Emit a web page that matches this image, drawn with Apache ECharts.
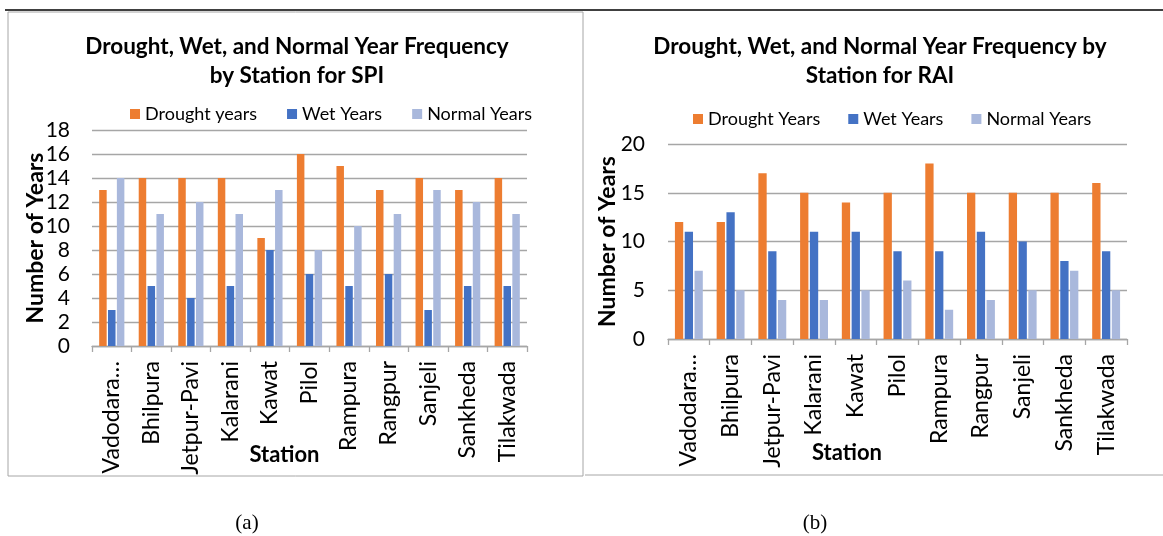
<!DOCTYPE html>
<html><head><meta charset="utf-8">
<script src="https://cdn.jsdelivr.net/npm/echarts@6/dist/echarts.min.js"></script>
<style>html,body{margin:0;padding:0;background:#fff}#c{width:1163px;height:536px}</style>
</head><body><div id="c"></div>
<script>
const stations = ['Vadodara…','Bhilpura','Jetpur-Pavi','Kalarani','Kawat','Pilol','Rampura','Rangpur','Sanjeli','Sankheda','Tilakwada'];
const spiDrought = [13,14,14,14,9,16,15,13,14,13,14];
const spiWet = [3,5,4,5,8,6,5,6,3,5,5];
const spiNormal = [14,11,12,11,13,8,10,11,13,12,11];
const raiDrought = [12,12,17,15,14,15,18,15,15,15,16];
const raiWet = [11,13,9,11,11,9,9,11,10,8,9];
const raiNormal = [7,5,4,4,5,6,3,4,5,7,5];
const spiTicks = {min:0,max:18,interval:2};
const raiTicks = {min:0,max:20,interval:5};

const FONT = 'Lato';
const cOrange = '#ED7D31', cBlue = '#4472C4', cLight = '#A9B8DC';
const chart = echarts.init(document.getElementById('c'));

function xAxis(gi, padRight, gap){
  return {
    type:'category', gridIndex:gi, data:stations,
    axisLine:{lineStyle:{color:'#a6a6a6',width:1.3}},
    axisTick:{show:true,length:6,lineStyle:{color:'#a6a6a6',width:1.3}},
    axisLabel:{rotate:90,color:'#000',fontFamily:FONT,fontSize:23,margin:15,interval:0},
    name:'Station', nameLocation:'middle', nameGap:gap, nameMoveOverlap:false,
    nameTextStyle:{color:'#000',fontFamily:FONT,fontSize:22,fontWeight:'bold',padding:[0,padRight,0,0]}
  };
}
function yAxis(gi, t, gap, margin){
  return {
    type:'value', gridIndex:gi, min:t.min, max:t.max, interval:t.interval,
    axisLine:{show:false}, axisTick:{show:false},
    axisLabel:{color:'#000',fontFamily:FONT,fontSize:21,margin:margin},
    splitLine:{lineStyle:{color:'#a6a6a6',width:1.4}},
    name:'Number of Years', nameLocation:'middle', nameRotate:90, nameGap:gap, nameMoveOverlap:false,
    nameTextStyle:{color:'#000',fontFamily:FONT,fontSize:23,fontWeight:'bold'}
  };
}
function bar(name, data, color, gi, bw){
  return {type:'bar', name, data, xAxisIndex:gi, yAxisIndex:gi, barWidth:bw, barGap:'18%',
    itemStyle:{color}, emphasis:{disabled:true}, animation:false};
}
const legendText = {color:'#000',fontFamily:FONT,fontSize:18};
const titleStyle = {fontFamily:FONT,fontSize:22.5,fontWeight:'bold',color:'#000',lineHeight:29};

chart.setOption({
  animation:false,
  title:[
    {text:'Drought, Wet, and Normal Year Frequency\nby Station for SPI', left:292, top:27, textAlign:'center', textStyle:titleStyle},
    {text:'Drought, Wet, and Normal Year Frequency by\nStation for RAI', left:875, top:27, textAlign:'center', textStyle:titleStyle}
  ],
  legend:[
    {data:['Drought years','Wet Years','Normal Years'], left:125, top:100, icon:'rect', itemWidth:10, itemHeight:10, itemGap:30, textStyle:legendText},
    {data:['Drought Years','Wet Years','Normal Years'], left:688, top:105, icon:'rect', itemWidth:10, itemHeight:10, itemGap:28, textStyle:legendText}
  ],
  grid:[
    {left:92, top:130, width:435, height:216},
    {left:668, top:144, width:459, height:195}
  ],
  xAxis:[xAxis(0,50,98), xAxis(1,101,103)],
  yAxis:[yAxis(0,spiTicks,45,22), yAxis(1,raiTicks,49,23)],
  series:[
    bar('Drought years', spiDrought, cOrange, 0, 7.5),
    bar('Wet Years', spiWet, cBlue, 0, 7.5),
    bar('Normal Years', spiNormal, cLight, 0, 7.5),
    bar('Drought Years', raiDrought, cOrange, 1, 8.3),
    bar('Wet Years', raiWet, cBlue, 1, 8.3),
    bar('Normal Years', raiNormal, cLight, 1, 8.3)
  ],
  graphic:[
    {type:'line', shape:{x1:5,y1:10,x2:1163,y2:10}, style:{stroke:'#000',lineWidth:1.5}},
    {type:'rect', shape:{x:8,y:12,width:575,height:464}, style:{fill:'none',stroke:'#a6a6a6',lineWidth:1}},
    {type:'line', shape:{x1:585,y1:475,x2:1163,y2:475}, style:{stroke:'#a6a6a6',lineWidth:1}},
    {type:'text', x:247, y:523, style:{text:'(a)', font:'21px "Liberation Serif"', fill:'#000', align:'center', verticalAlign:'middle'}},
    {type:'text', x:815, y:523, style:{text:'(b)', font:'21px "Liberation Serif"', fill:'#000', align:'center', verticalAlign:'middle'}}
  ]
});
</script></body></html>
